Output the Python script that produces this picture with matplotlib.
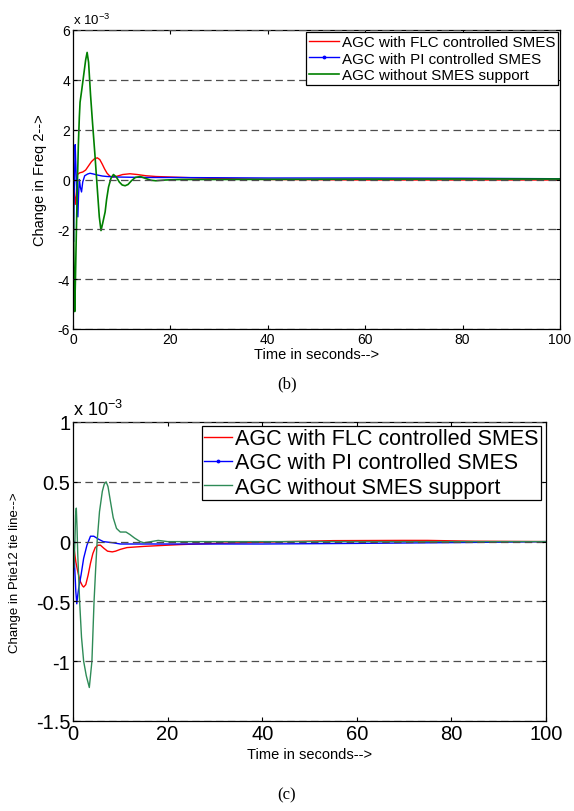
import matplotlib.pyplot as plt
import numpy as np

plt.rcParams['font.family'] = ['Liberation Sans', 'DejaVu Sans']
plt.rcParams['axes.unicode_minus'] = False
plt.rcParams['mathtext.fontset'] = 'custom'
plt.rcParams['mathtext.rm'] = 'Liberation Sans'

labels = ["AGC with FLC controlled SMES", "AGC with PI controlled SMES", "AGC without SMES support"]

# (b) change in frequency of area 2, values in units of 1e-3
t_b_flc = [0, 0.2, 0.45, 0.7, 0.9, 1.4, 2.0, 2.6, 3.2, 3.8, 4.4, 5.0, 5.5, 6.0, 6.5, 7.0, 7.6, 8.3, 9.2,
           10.2, 11.7, 13.2, 15, 17, 20, 26, 30, 40, 50, 60, 80, 100]
f_b_flc = [0, -0.5, -1.0, -0.5, 0.2, 0.27, 0.3, 0.38, 0.55, 0.72, 0.83, 0.87, 0.8, 0.62, 0.42, 0.25, 0.13, 0.1, 0.14,
           0.2, 0.23, 0.2, 0.15, 0.12, 0.1, 0.06, 0.04, 0.0, -0.01, -0.02, -0.02, -0.02]

t_b_pi = [0, 0.1, 0.25, 0.45, 0.6, 0.8, 1.0, 1.15, 1.3, 1.5, 1.75, 2.0, 2.4, 3.0, 3.5, 4.2, 5.0, 6, 7, 9,
          12, 16, 20, 30, 40, 60, 80, 100]
f_b_pi = [0, -2.5, -0.5, 1.4, 0.5, -0.8, -1.5, -0.6, 0.0, -0.3, -0.5, -0.1, 0.15, 0.22, 0.25, 0.22, 0.18, 0.14, 0.12, 0.1,
          0.09, 0.08, 0.08, 0.07, 0.06, 0.06, 0.05, 0.03]

t_b_no = [0, 0.1, 0.2, 0.3, 0.35, 0.5, 0.7, 0.9, 1.1, 1.3, 1.45, 1.8, 2.2, 2.6, 2.9, 3.2, 3.6, 4.0, 4.5, 5.0,
          5.4, 5.75, 6.1, 6.6, 6.9, 7.3, 7.8, 8.3, 8.9, 9.5, 10.1, 10.7, 11.3, 12.0, 12.8, 13.8, 14.8, 16, 17, 19,
          22, 30, 50, 80, 100]
f_b_no = [0, -1.5, -3.5, -5.0, -5.3, -4.0, -2.0, -0.2, 1.4, 2.5, 3.1, 3.6, 4.2, 4.8, 5.1, 4.7, 3.4, 2.3, 1.0, -0.4,
          -1.5, -2.05, -1.75, -1.3, -0.8, -0.3, 0.05, 0.2, 0.1, -0.1, -0.22, -0.25, -0.2, -0.05, 0.08, 0.12, 0.05, -0.03, -0.05, -0.02,
          0.0, 0.0, 0.01, 0.02, 0.02]

# (c) change in tie line power Ptie12, values in units of 1e-3
t_c_flc = [0, 0.3, 0.6, 1.0, 1.5, 2.0, 2.25, 2.7, 3.2, 3.7, 4.2, 4.7, 5.3, 5.8, 6.5, 7.3, 8.3, 9.0, 10,
           11.4, 15, 20, 22.7, 30, 35, 40, 45, 55, 70, 75, 85, 100]
f_c_flc = [0, -0.08, -0.17, -0.25, -0.33, -0.37, -0.38, -0.36, -0.28, -0.18, -0.1, -0.05, -0.03, -0.03, -0.055, -0.08, -0.086, -0.08, -0.065,
           -0.05, -0.04, -0.03, -0.025, -0.015, -0.01, -0.005, 0.0, 0.008, 0.01, 0.01, 0.003, 0.0]

t_c_pi = [0, 0.2, 0.4, 0.6, 0.8, 1.0, 1.2, 1.7, 2.25, 2.95, 3.7, 4.4, 5.4, 6.4, 8.5, 10, 20, 40, 60, 75, 90, 100]
f_c_pi = [0, -0.1, -0.25, -0.42, -0.52, -0.45, -0.39, -0.28, -0.14, -0.03, 0.045, 0.045, 0.02, 0.0, -0.01, -0.02, -0.02,
          -0.02, -0.015, -0.01, -0.005, 0.0]

t_c_no = [0, 0.2, 0.4, 0.55, 0.7, 0.85, 1.0, 1.4, 1.8, 2.25, 2.8, 3.45, 4.0, 4.45, 4.8, 5.1, 5.6, 6.2, 6.6, 7.0,
          7.4, 7.9, 8.5, 9.2, 10.0, 11.2, 12.0, 13.0, 14.2, 15.0, 16.5, 18, 20, 30, 60, 100]
f_c_no = [0, -0.22, 0.0, 0.22, 0.28, 0.12, -0.1, -0.5, -0.8, -1.0, -1.12, -1.22, -1.0, -0.5, -0.22, 0.0, 0.25, 0.42, 0.48, 0.5,
          0.46, 0.34, 0.2, 0.11, 0.08, 0.08, 0.06, 0.03, 0.0, -0.01, 0.0, 0.01, 0.0, 0.0, 0.0, 0.0]

xticks = [0, 20, 40, 60, 80, 100]
yticks_b = [-6, -4, -2, 0, 2, 4, 6]
yticks_c = [-1.5, -1, -0.5, 0, 0.5, 1]
yticklabels_c = ["-1.5", "-1", "-0.5", "0", "0.5", "1"]

fig = plt.figure(figsize=(5.74, 8.12), dpi=100)
ax1 = fig.add_axes([73/574, 1 - 330/812, 487/574, 299/812])
ax2 = fig.add_axes([73/574, 1 - 722/812, 473/574, 299/812])


def style(ax, tick_size):
    ax.set_xlim(0, 100)
    ax.set_xticks(xticks)
    ax.tick_params(direction='in', top=True, right=True, length=3, width=0.8, labelsize=tick_size, pad=2)
    ax.yaxis.grid(True, linestyle=(0, (6, 3.5)), color='0.3', linewidth=0.9)
    ax.set_axisbelow(False)
    for s in ax.spines.values():
        s.set_linewidth(0.9)


# panel (b)
ax1.plot(t_b_flc, f_b_flc, color='#ff0000', lw=1.0, label=labels[0])
ax1.plot(t_b_pi, f_b_pi, color='#0000ff', lw=1.0, marker='.', ms=3.5, markevery=[0], label=labels[1])
ax1.plot(t_b_no, f_b_no, color='#008000', lw=1.2, label=labels[2])
style(ax1, 10)
ax1.set_ylim(-6, 6)
ax1.set_yticks(yticks_b)
ax1.set_xlabel("Time in seconds-->", fontsize=10.5)
ax1.xaxis.set_label_coords(0.5, -0.085)
ax1.xaxis.label.set_va('center')
ax1.set_ylabel("Change in Freq 2-->", fontsize=10.5)
ax1.yaxis.set_label_coords(-0.068, 0.5)
ax1.yaxis.label.set_va('center')
ax1.text(0.0, 1.01, r"x 10$^{-3}$", transform=ax1.transAxes, fontsize=9.5, ha='left', va='bottom')
leg1 = ax1.legend(loc='upper right', bbox_to_anchor=(0.996, 0.993), fontsize=10.9, frameon=True, fancybox=False,
                  edgecolor='black', framealpha=1, borderaxespad=0, borderpad=0.2, labelspacing=0.17,
                  handlelength=2.0, handletextpad=0.15, numpoints=1)
leg1.get_frame().set_linewidth(0.9)

# panel (c)
ax2.plot(t_c_flc, f_c_flc, color='#ff0000', lw=1.0, label=labels[0])
ax2.plot(t_c_pi, f_c_pi, color='#0000ff', lw=1.0, marker='.', ms=3.5, markevery=[0], label=labels[1])
ax2.plot(t_c_no, f_c_no, color='#2e8b57', lw=1.0, label=labels[2])
style(ax2, 14.5)
ax2.set_ylim(-1.5, 1)
ax2.set_yticks(yticks_c, yticklabels_c)
ax2.set_xlabel("Time in seconds-->", fontsize=10.5)
ax2.xaxis.set_label_coords(0.5, -0.109)
ax2.xaxis.label.set_va('center')
ax2.set_ylabel("Change in Ptie12 tie line-->", fontsize=9.5)
ax2.yaxis.set_label_coords(-0.123, 0.5)
ax2.yaxis.label.set_va('center')
ax2.text(0.0, 1.01, r"x 10$^{-3}$", transform=ax2.transAxes, fontsize=13, ha='left', va='bottom')
leg2 = ax2.legend(loc='upper right', bbox_to_anchor=(0.989, 0.987), fontsize=15.5, frameon=True, fancybox=False,
                  edgecolor='black', framealpha=1, borderaxespad=0, borderpad=0.1, labelspacing=0.16,
                  handlelength=1.3, handletextpad=0.15, numpoints=1)
leg2.get_frame().set_linewidth(0.9)

fig.text(287/574, 1 - 384/812, "(b)", family='Liberation Serif', fontsize=12, ha='center', va='center')
fig.text(287/574, 1 - 795/812, "(c)", family='Liberation Serif', fontsize=12, ha='center', va='center')

fig.savefig("out.png", dpi=100)
